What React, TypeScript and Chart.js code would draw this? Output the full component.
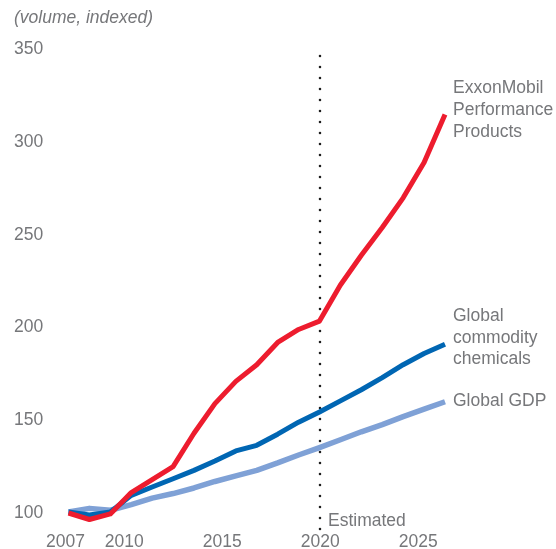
import React, { useEffect, useRef } from "react";
import { Chart, registerables } from "chart.js";

Chart.register(...registerables);

// ---- data ----
const years = [2007, 2008, 2009, 2010, 2011, 2012, 2013, 2014, 2015, 2016, 2017, 2018, 2019, 2020, 2021, 2022, 2023, 2024, 2025];
const performanceProducts = [100, 96.5, 99.5, 111, 118, 125, 143, 159, 171, 180, 192, 199, 203.5, 223, 239, 254, 270, 289, 315];
const commodityChemicals = [100.5, 99, 100.5, 109.5, 114, 118.5, 123, 128, 133.5, 136.5, 142.5, 149, 154.5, 160.5, 166.5, 173, 180, 186, 191];
const globalGdp = [100.5, 102.5, 101.5, 104.5, 108, 110.5, 113.5, 117, 120, 123, 127, 131.3, 135.3, 139.5, 143.8, 147.7, 152, 156, 160];

const xTickYears = [2007, 2010, 2015, 2020, 2025];
const yTickValues = [100, 150, 200, 250, 300, 350];
const estimatedFromYear = 2019;

const seriesNames = [
  ["ExxonMobil", "Performance", "Products"],
  ["Global", "commodity", "chemicals"],
  ["Global GDP"],
];
const axisTitle = "(volume, indexed)";
const estimatedLabel = "Estimated";

// ---- styles ----
const RED = "#ed1c2e";
const BLUE = "#0066b3";
const LIGHT = "#7fa1d6";
const TEXT = "#76777a";
const FONT_FAMILY = "'Liberation Sans', Arial, sans-serif";
const FONT_SIZE = 17.5;

const annotationPlugin = {
  id: "annotations",
  beforeDatasetsDraw(chart: any) {
    const ctx = chart.ctx;
    const xd = chart.scales.xd;
    const y = chart.scales.y;
    const x = Math.round(xd.getPixelForValue(estimatedFromYear));
    ctx.save();
    ctx.strokeStyle = "#1e1e1e";
    ctx.lineWidth = 2.6;
    ctx.lineCap = "round";
    ctx.setLineDash([0, 11]);
    ctx.beginPath();
    ctx.moveTo(x, y.getPixelForValue(346.5));
    ctx.lineTo(x, y.getPixelForValue(90.5));
    ctx.stroke();
    ctx.restore();
  },
  afterDraw(chart: any) {
    const ctx = chart.ctx;
    const xd = chart.scales.xd;
    const y = chart.scales.y;
    ctx.save();
    ctx.fillStyle = TEXT;
    ctx.textBaseline = "middle";
    ctx.textAlign = "left";

    // axis title
    ctx.font = `italic ${FONT_SIZE}px ${FONT_FAMILY}`;
    ctx.fillText(axisTitle, 14, 18);

    ctx.font = `${FONT_SIZE}px ${FONT_FAMILY}`;
    // Estimated label
    const xe = Math.round(xd.getPixelForValue(estimatedFromYear));
    ctx.fillText(estimatedLabel, xe + 8, 521.5);

    // series labels at line ends
    const series = [performanceProducts, commodityChemicals, globalGdp];
    const dys = [-4, -6.5, -1];
    const lhs = [22.2, 21.3, 21];
    const lastYear = years[years.length - 1];
    const lx = xd.getPixelForValue(lastYear) + 8;
    series.forEach((s, i) => {
      const endY = y.getPixelForValue(s[s.length - 1]);
      const lines = seriesNames[i];
      const n = lines.length;
      lines.forEach((t, j) => {
        ctx.fillText(t, lx, endY + dys[i] + (j - (n - 1) / 2) * lhs[i]);
      });
    });
    ctx.restore();
  },
};

// pixel layout of plot area
const AREA_LEFT = 54;
const AREA_RIGHT = 470;
// data scale: 2007 at 68.5px, 2025 at 445px
const dataPxPerYear = (445 - 68.5) / 18;
const xdMin = 2007 - (68.5 - AREA_LEFT) / dataPxPerYear;
const xdMax = 2007 + (AREA_RIGHT - 68.5) / dataPxPerYear;
// label scale: 2010 at 124.2px, 19.6 px/year
const labelPxPerYear = 19.6;
const xlMin = 2010 - (124.2 - AREA_LEFT) / labelPxPerYear;
const xlMax = 2010 + (AREA_RIGHT - 124.2) / labelPxPerYear;

export default function App() {
  const canvasRef = useRef<HTMLCanvasElement | null>(null);

  useEffect(() => {
    document.body.style.margin = "0";
    const canvas = canvasRef.current;
    if (!canvas) return;
    const mk = (vals: number[]) => years.map((yr, i) => ({ x: yr, y: vals[i] }));
    const common = {
      xAxisID: "xd",
      yAxisID: "y",
      pointRadius: 0,
      tension: 0,
      clip: false as any,
      borderJoinStyle: "round" as any,
    };
    const chart = new Chart(canvas, {
      type: "line",
      data: {
        datasets: [
          {
            ...common,
            label: seriesNames[0].join(" "),
            data: mk(performanceProducts),
            borderColor: RED,
            borderWidth: 5,
            order: 1,
          },
          {
            ...common,
            label: seriesNames[1].join(" "),
            data: mk(commodityChemicals),
            borderColor: BLUE,
            borderWidth: 5,
            order: 2,
          },
          {
            ...common,
            label: seriesNames[2].join(" "),
            data: mk(globalGdp),
            borderColor: LIGHT,
            borderWidth: 5.5,
            order: 3,
          },
        ],
      },
      options: {
        responsive: false,
        animation: false,
        devicePixelRatio: 1,
        layout: { padding: { left: 14, right: 556 - AREA_RIGHT, top: 49.5, bottom: 0 } },
        plugins: {
          legend: { display: false },
          tooltip: { enabled: false },
          title: { display: false },
        },
        scales: {
          xd: {
            type: "linear",
            display: false,
            min: xdMin,
            max: xdMax,
          },
          x: {
            type: "linear",
            position: "bottom",
            min: xlMin,
            max: xlMax,
            grid: { display: false, drawTicks: false },
            border: { display: false },
            afterBuildTicks: (scale: any) => {
              scale.ticks = xTickYears.map((v) => ({ value: v }));
            },
            afterFit: (scale: any) => {
              scale.height = 36;
            },
            ticks: {
              autoSkip: false,
              maxRotation: 0,
              padding: 19,
              color: TEXT,
              font: { family: FONT_FAMILY, size: FONT_SIZE, lineHeight: 1.2 },
              callback: (v: any) => String(v),
            },
          },
          y: {
            type: "linear",
            min: 100,
            max: 350,
            grid: { display: false, drawTicks: false },
            border: { display: false },
            afterBuildTicks: (scale: any) => {
              scale.ticks = yTickValues.map((v) => ({ value: v }));
            },
            afterFit: (scale: any) => {
              scale.width = AREA_LEFT - 14;
            },
            ticks: {
              autoSkip: false,
              crossAlign: "far",
              padding: 0,
              color: TEXT,
              font: { family: FONT_FAMILY, size: FONT_SIZE, lineHeight: 1.2 },
              callback: (v: any) => String(v),
            },
          },
        },
      },
      plugins: [annotationPlugin],
    });
    return () => chart.destroy();
  }, []);

  return (
    <div style={{ width: 556, height: 549 }}>
      <canvas ref={canvasRef} width={556} height={549} style={{ display: "block" }} />
    </div>
  );
}
